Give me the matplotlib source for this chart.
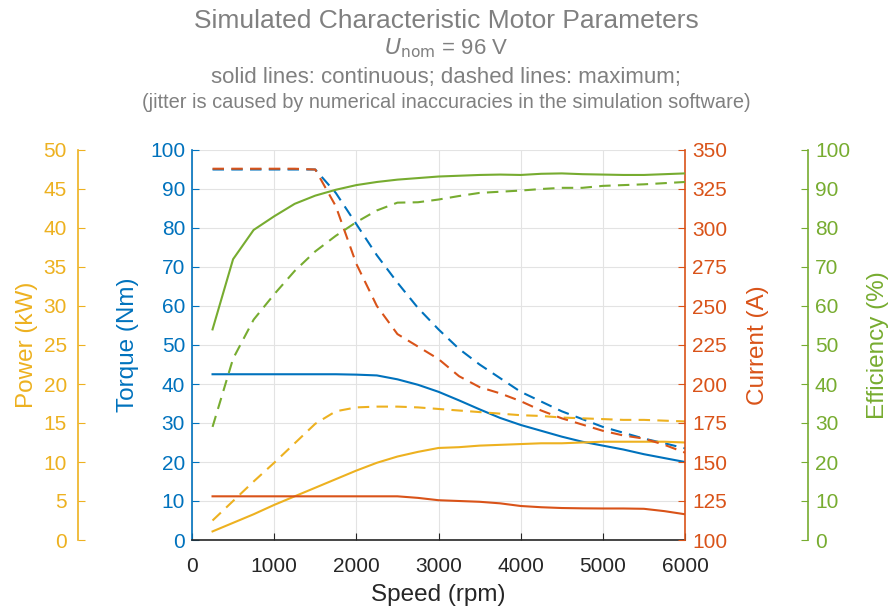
"""
Simulated characteristic motor parameters: torque, power, current, efficiency vs speed.
"""
import matplotlib
matplotlib.use('Agg')
import matplotlib.pyplot as plt

plt.rcParams['font.family'] = ['Liberation Sans', 'DejaVu Sans']

# colours (MATLAB default order)
C_TORQUE = '#0072BD'
C_CURRENT = '#D95319'
C_POWER = '#EDB120'
C_EFF = '#77AC30'

speed_rpm = [250, 500, 750, 1000, 1250, 1500, 1750, 2000, 2250, 2500, 2750, 3000,
             3250, 3500, 3750, 4000, 4250, 4500, 4750, 5000, 5250, 5500, 5750, 6000]

torque_cont = [42.5, 42.5, 42.5, 42.5, 42.5, 42.5, 42.5, 42.4, 42.2, 41.2, 39.8, 38.0,
               35.8, 33.5, 31.3, 29.5, 28.0, 26.5, 25.2, 24.2, 23.2, 22.0, 21.0, 20.0]
torque_max = [95, 95, 95, 95, 95, 95, 89, 81, 73, 66, 59.5, 54,
              49, 45, 41.5, 38, 35.5, 33, 31, 29, 27.5, 26, 24.8, 23.5]

power_cont = [1.1, 2.2, 3.3, 4.5, 5.6, 6.7, 7.8, 8.9, 9.9, 10.7, 11.3, 11.8,
              11.9, 12.1, 12.2, 12.3, 12.4, 12.4, 12.5, 12.6, 12.6, 12.6, 12.6, 12.5]
power_max = [2.5, 5.0, 7.5, 9.9, 12.4, 14.9, 16.5, 17.0, 17.1, 17.1, 17.0, 16.8,
             16.6, 16.4, 16.2, 16.0, 15.9, 15.7, 15.6, 15.5, 15.4, 15.4, 15.3, 15.2]

current_cont = [128, 128, 128, 128, 128, 128, 128, 128, 128, 128, 127, 125.5,
                125, 124.5, 123.5, 121.8, 121, 120.5, 120.3, 120.2, 120.2, 120, 118.5, 116.5]
current_max = [338, 338, 338, 338, 338, 337.5, 314, 277, 250, 232, 224, 216,
               205, 198, 194, 189, 183, 178, 174, 170, 167, 165, 161, 156]

eff_cont = [54, 72, 79.5, 83, 86.2, 88.3, 89.8, 91, 91.8, 92.4, 92.8, 93.2,
            93.4, 93.6, 93.7, 93.6, 93.9, 94, 93.8, 93.7, 93.6, 93.6, 93.8, 94]
eff_max = [29, 46.5, 56.5, 63, 69, 74, 78, 81.5, 84.5, 86.5, 86.6, 87.3,
           88.2, 89, 89.3, 89.6, 90, 90.3, 90.3, 90.8, 91, 91.2, 91.5, 91.8]

fig = plt.figure(figsize=(8.92, 6.10), dpi=100)
ax = fig.add_axes([192/892, 70/610, 493/892, 390/610])
ax_p = ax.twinx()
ax_i = ax.twinx()
ax_e = ax.twinx()

lw = 1.5
dash = (0, (5.5, 3.5))

ax.plot(speed_rpm, torque_cont, color=C_TORQUE, lw=lw)
ax.plot(speed_rpm, torque_max, color=C_TORQUE, lw=lw, linestyle=dash)
ax_p.plot(speed_rpm, power_cont, color=C_POWER, lw=lw)
ax_p.plot(speed_rpm, power_max, color=C_POWER, lw=lw, linestyle=dash)
ax_i.plot(speed_rpm, current_cont, color=C_CURRENT, lw=lw)
ax_i.plot(speed_rpm, current_max, color=C_CURRENT, lw=lw, linestyle=dash)
ax_e.plot(speed_rpm, eff_cont, color=C_EFF, lw=lw)
ax_e.plot(speed_rpm, eff_max, color=C_EFF, lw=lw, linestyle=dash)

ax.set_xlim(0, 6000)
ax.set_xticks(range(0, 6001, 1000))
ax.set_ylim(0, 100)
ax.set_yticks(range(0, 101, 10))
ax_p.set_ylim(0, 50)
ax_p.set_yticks(range(0, 51, 5))
ax_i.set_ylim(100, 350)
ax_i.set_yticks(range(100, 351, 25))
ax_e.set_ylim(0, 100)
ax_e.set_yticks(range(0, 101, 10))

ax.grid(True, color='#e3e3e3', linewidth=0.8)
ax.set_axisbelow(True)

# spines
for a in (ax, ax_p, ax_i, ax_e):
    for s in a.spines.values():
        s.set_visible(False)

ax.spines['bottom'].set_visible(True)
ax.spines['bottom'].set_color('#262626')
ax.spines['left'].set_visible(True)
ax.spines['left'].set_color(C_TORQUE)

ax_p.yaxis.set_ticks_position('left')
ax_p.yaxis.set_label_position('left')
ax_p.spines['left'].set_visible(True)
ax_p.spines['left'].set_position(('axes', (78 - 192) / 493))
ax_p.spines['left'].set_color(C_POWER)

ax_i.spines['right'].set_visible(True)
ax_i.spines['right'].set_color(C_CURRENT)

ax_e.spines['right'].set_visible(True)
ax_e.spines['right'].set_position(('axes', (808 - 192) / 493))
ax_e.spines['right'].set_color(C_EFF)

for a in (ax, ax_p, ax_i, ax_e):
    for s in a.spines.values():
        s.set_linewidth(1.2)

tick_fs = 15
ax.tick_params(axis='x', direction='in', length=5, colors='#262626', labelsize=tick_fs, pad=12)
ax.tick_params(axis='y', direction='in', length=5, colors=C_TORQUE, labelsize=tick_fs, pad=5)
ax_p.tick_params(axis='y', direction='in', length=5, colors=C_POWER, labelsize=tick_fs, pad=8)
ax_i.tick_params(axis='y', direction='in', length=5, colors=C_CURRENT, labelsize=tick_fs, pad=5)
ax_e.tick_params(axis='y', direction='in', length=5, colors=C_EFF, labelsize=tick_fs, pad=5)

lab_fs = 17.5
ax.set_xlabel('Speed (rpm)', fontsize=lab_fs, color='#262626', labelpad=6)
ax.set_ylabel('Torque (Nm)', fontsize=lab_fs, color=C_TORQUE, labelpad=8)
ax_p.set_ylabel('Power (kW)', fontsize=lab_fs, color=C_POWER, labelpad=4)
ax_i.set_ylabel('Current (A)', fontsize=lab_fs, color=C_CURRENT, labelpad=14)
ax_e.set_ylabel('Efficiency (%)', fontsize=lab_fs, color=C_EFF, labelpad=12)

# title block
title_col = '#808080'
fig.text(0.5, 1 - 21/610, 'Simulated Characteristic Motor Parameters',
         ha='center', va='center', fontsize=19, color=title_col)
fig.text(0.5, 1 - 48/610, r'$U_{\mathrm{nom}}$ = 96 V',
         ha='center', va='center', fontsize=16, color=title_col)
fig.text(0.5, 1 - 77/610, 'solid lines: continuous; dashed lines: maximum;',
         ha='center', va='center', fontsize=16, color=title_col)
fig.text(0.5, 1 - 102/610, '(jitter is caused by numerical inaccuracies in the simulation software)',
         ha='center', va='center', fontsize=14.4, color=title_col)

plt.savefig('out.png', dpi=100)
